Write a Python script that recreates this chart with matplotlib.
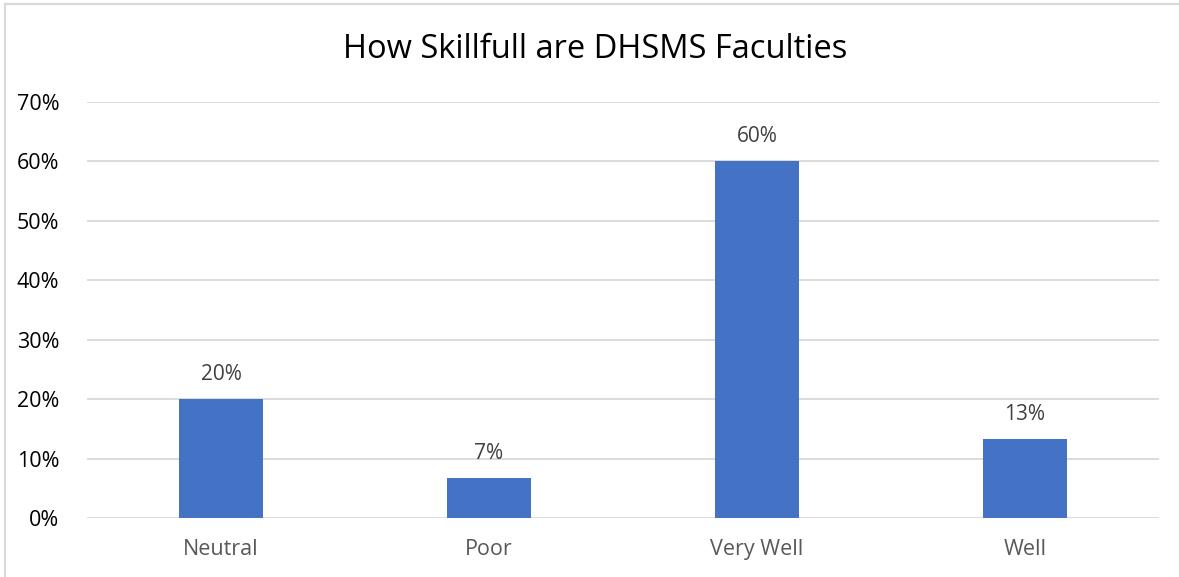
import matplotlib.pyplot as plt
from matplotlib.lines import Line2D
from matplotlib.ticker import PercentFormatter

categories = ['Neutral', 'Poor', 'Very Well', 'Well']
shares = [0.20, 0.0667, 0.60, 0.1333]
labels = ['20%', '7%', '60%', '13%']

plt.rcParams['font.family'] = ['Open Sans', 'DejaVu Sans']

fig = plt.figure(figsize=(11.79, 5.77), dpi=100)
ax = fig.add_axes([0.0738, 0.1023, 0.9092, 0.721])

x = range(len(categories))
bars = ax.bar(x, shares, width=0.31, color='#4472C4', zorder=3)

for b, lab in zip(bars, labels):
    ax.annotate(lab, (b.get_x() + b.get_width() / 2, b.get_height()),
                xytext=(0, 10), textcoords='offset points',
                ha='center', va='bottom', fontsize=15, color='#404040')

ax.set_xlim(-0.5, 3.5)
ax.set_ylim(0, 0.7)
ax.set_yticks([i / 10 for i in range(8)])
ax.yaxis.set_major_formatter(PercentFormatter(1.0, decimals=0))
ax.set_xticks(list(x))
ax.set_xticklabels(categories)
ax.grid(axis='y', color='#D9D9D9', linewidth=1.3, zorder=0)
for s in ax.spines.values():
    s.set_visible(False)
ax.tick_params(length=0)
ax.tick_params(axis='y', labelsize=15.5, labelcolor='#000000', pad=20)
ax.tick_params(axis='x', labelsize=15.5, labelcolor='#595959', pad=15)

fig.text(0.505, 0.915, 'How Skillfull are DHSMS Faculties', ha='center', va='center',
         fontsize=23.5, color='#000000')

# outer chart border (only top and left visible in the crop)
bx, by = 5 / 1179, 1 - 4 / 577
fig.add_artist(Line2D([bx, bx], [0, by], transform=fig.transFigure,
                      color='#D9D9D9', linewidth=1.5))
fig.add_artist(Line2D([bx, 1], [by, by], transform=fig.transFigure,
                      color='#D9D9D9', linewidth=1.5))

fig.savefig('out.png', dpi=100)
